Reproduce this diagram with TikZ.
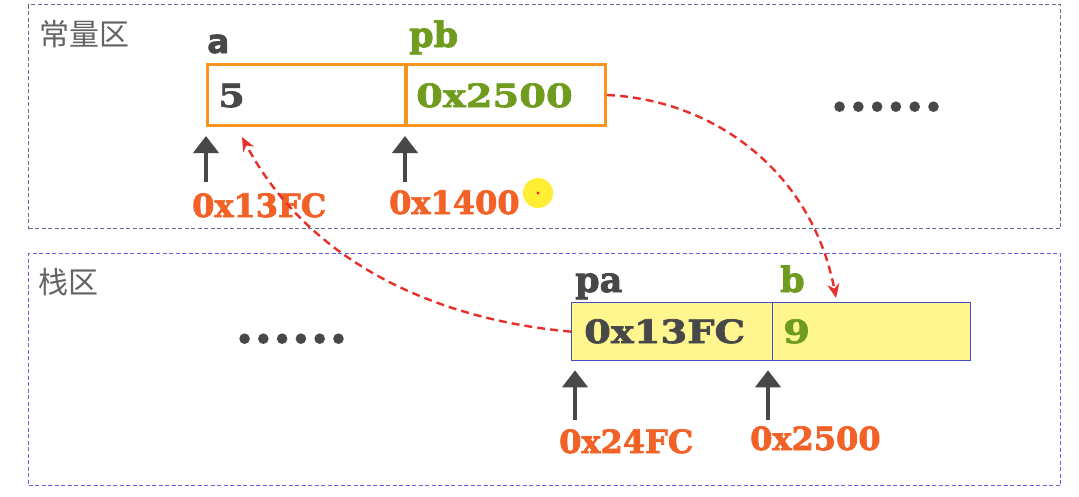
\documentclass[tikz,border=0pt]{standalone}
\usepackage{fontspec}
\setmainfont{DejaVu Serif}
\newfontfamily\cjk{Noto Sans CJK SC}
\newfontfamily\heavysans[BoldFeatures={FakeBold=2}]{DejaVu Sans}
\newfontfamily\heavyser[BoldFeatures={FakeBold=2.2}]{DejaVu Serif}
\newfontfamily\wideser[BoldFeatures={FakeBold=2.2,FakeStretch=1.2}]{DejaVu Serif}
\newfontfamily\lmr[BoldFeatures={FakeBold=3}]{Latin Modern Roman}
\usetikzlibrary{arrows.meta}
\definecolor{zonegray}{HTML}{5E6E90}
\definecolor{zoneblue}{HTML}{6262E6}
\definecolor{boxorange}{HTML}{F7941D}
\definecolor{boxblue}{HTML}{4050C8}
\definecolor{cellyellow}{HTML}{FFF68F}
\definecolor{darktxt}{HTML}{484848}
\definecolor{greentxt}{HTML}{6F9C1F}
\definecolor{addrtxt}{HTML}{F26126}
\definecolor{ptrred}{HTML}{E8302A}
\definecolor{cursor}{HTML}{FFEE33}
\tikzset{
  zone/.style={draw, line width=1.3pt, dash pattern=on 4pt off 2.5pt, rectangle, inner sep=0pt, anchor=north west},
  topcell/.style={draw=boxorange, line width=3pt, rectangle, inner sep=0pt, anchor=north west, minimum height=61pt},
  botcell/.style={draw=boxblue, fill=cellyellow, line width=1.3pt, rectangle, inner sep=0pt, anchor=north west, minimum height=58pt},
  zonelabel/.style={font=\cjk\fontsize{30}{30}\selectfont, text=darktxt!85, inner sep=0pt},
  varname/.style={font=\heavyser\bfseries\fontsize{35}{35}\selectfont, inner sep=0pt, anchor=base west},
  cellval/.style={font=\wideser\bfseries\fontsize{32}{32}\selectfont, inner sep=0pt, anchor=base west},
  addr/.style={font=\heavyser\bfseries\fontsize{32}{32}\selectfont, text=addrtxt, inner sep=0pt, anchor=base west},
  dots/.style={font=\lmr\bfseries\fontsize{60}{60}\selectfont, text=darktxt, inner sep=0pt, anchor=base west},
  uparrow/.style={draw=darktxt, line width=4pt, -{Triangle[width=25pt,length=17pt]}},
  ptr/.style={draw=ptrred, line width=2.4pt, dash pattern=on 8pt off 5pt, -{Stealth[length=14pt,width=12pt]}}
}
\begin{document}
\begin{tikzpicture}[x=1pt,y=-1pt]
\useasboundingbox (0,0) rectangle (1079,496);
\fill[white] (0,0) rectangle (1079,496);

% zones
\node[zone, draw=zonegray, minimum width=1032pt, minimum height=224pt] (constzone) at (28,4) {};
\node[zone, draw=zoneblue, minimum width=1032pt, minimum height=232pt] (stackzone) at (28,253) {};
\node[zonelabel] (constlbl) at (84,34) {常量区};
\node[zonelabel] (stacklbl) at (68,282) {栈区};

% constant area cells
\node[topcell, minimum width=198pt] (cellA) at (206,63) {};
\node[topcell, minimum width=199pt] (cellPB) at (405,63) {};
\node[font=\heavysans\bfseries\fontsize{33}{33}\selectfont, text=darktxt, inner sep=0pt, anchor=base west] (nameA) at (207,53) {a};
\node[varname, text=greentxt] (namePB) at (409,47) {pb};
\node[cellval, text=darktxt] (valA) at (218,107) {5};
\node[cellval, text=greentxt] (valPB) at (416,107) {0x2500};
\node[dots] (dotsTop) at (830,111) {......};

% address labels top
\node[addr] (adA) at (192,217) {0x13FC};
\node[addr] (adPB) at (389,214) {0x1400};
\coordinate (arA) at (206,182);
\coordinate (arPB) at (405,182);
\draw[uparrow, shorten >=9pt] (arA) -- (cellA.south west);
\draw[uparrow, shorten >=9pt] (arPB) -- (cellPB.south west);

% cursor highlight
\fill[cursor] (538,193) circle (15pt);
\fill[ptrred] (538,193) circle (1.7pt);

% stack area cells
\node[botcell, minimum width=201pt] (cellPA) at (571,302) {};
\node[botcell, minimum width=198pt] (cellB) at (772,302) {};
\node[varname, text=darktxt] (namePA) at (575,292) {pa};
\node[varname, text=greentxt] (nameB) at (780,292) {b};
\node[cellval, text=darktxt] (valPA) at (584,343) {0x13FC};
\node[cellval, text=greentxt] (valB) at (783,343) {9};
\node[dots] (dotsBot) at (235,343) {......};

% address labels bottom
\node[addr] (adPA) at (559,453) {0x24FC};
\node[addr] (adB) at (750,450) {0x2500};
\coordinate (arPA) at (575,420);
\coordinate (arB) at (768,420);
\draw[uparrow, shorten >=9pt] (arPA) -- (cellPA.south west -| arPA);
\draw[uparrow, shorten >=9pt] (arB) -- (cellB.south west -| arB);

% pointer arrows
\coordinate (tgtA) at (242,137);
\coordinate (tgtB) at (836,298);
\draw[ptr] (cellPA.west) .. controls (440,320) and (310,265) .. (tgtA);
\draw[ptr] (cellPB.east) .. controls (715,100) and (812,172) .. (tgtB);
\end{tikzpicture}
\end{document}
